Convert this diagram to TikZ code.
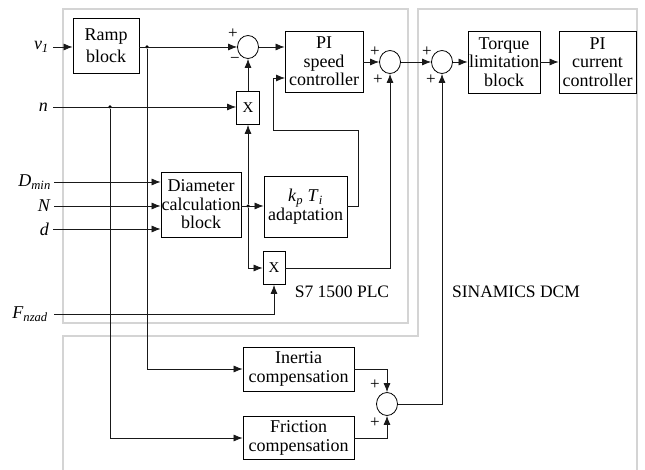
\documentclass[tikz,border=0pt]{standalone}
\usepackage{fontspec}
\setmainfont{Liberation Serif}
\usetikzlibrary{arrows.meta,shapes.geometric,calc}
\begin{document}
\begin{tikzpicture}[x=1pt,y=-1pt,
  blk/.style={draw, line width=0.8pt, inner sep=0pt, align=center, font=\fontsize{18}{18.5}\selectfont},
  mul/.style={draw, line width=0.8pt, inner sep=0pt, minimum width=23pt, minimum height=33pt, font=\fontsize{15}{15}\selectfont},
  sumc/.style={draw, ellipse, line width=0.8pt, minimum width=21pt, minimum height=23pt, inner sep=0pt},
  lbl/.style={font=\fontsize{18}{18}\selectfont, inner sep=0pt, anchor=east},
  sgn/.style={font=\fontsize{17}{17}\selectfont, inner sep=0pt},
  conn/.style={line width=0.75pt, draw=black!90},
  arr/.style={conn, -{Latex[length=9pt,width=7pt]}},
  dot/.style={circle, fill=black, inner sep=0pt, minimum size=3.5pt},
  region/.style={draw=black!17, line width=2pt},
  title/.style={font=\fontsize{17.5}{17.5}\selectfont, inner sep=0pt}
]
\useasboundingbox (0,0) rectangle (645,470);
\fill[white] (0,0) rectangle (645,470);

% regions
\draw[region] (63,9) rectangle (408,323);
\draw[region] (63,470) -- (63,336) -- (418,336) -- (418,9) -- (637,9) -- (637,470);

% blocks
\node[blk, minimum width=66pt, minimum height=55pt] (ramp) at (106,46) {Ramp\\[3.5pt]block};
\node[blk, minimum width=78pt, minimum height=61pt] (pis) at (324,61.5) {PI\\speed\\controller};
\node[blk, minimum width=72pt, minimum height=62pt] (torque) at (504,62) {Torque\\limitation\\block};
\node[blk, minimum width=77pt, minimum height=62pt] (picur) at (597.5,62) {PI\\current\\controller};
\node[blk, minimum width=80pt, minimum height=65pt] (diam) at (201,204.5) {Diameter\\calculation\\block};
\node[blk, minimum width=83pt, minimum height=61pt] (kp) at (305.5,206.5) {\textit{k}\textsubscript{\textit{p}} \textit{T}\textsubscript{\textit{i}}\\adaptation};
\node[blk, minimum width=111pt, minimum height=44pt] (inertia) at (298.5,369) {Inertia\\compensation};
\node[blk, minimum width=111pt, minimum height=43pt] (friction) at (298.5,438) {Friction\\compensation};
\node[mul] (x1) at (248,108) {X};
\node[mul, minimum width=22pt] (x2) at (274,268) {X};

% summing junctions
\node[sumc] (sum1) at (248,47) {};
\node[sumc] (sum2) at (390,62) {};
\node[sumc] (sum3) at (442,62) {};
\node[sumc] (sum4) at (387,404) {};

% signs
\node[sgn] (s1a) at (233,34) {+};
\node[sgn] (s1b) at (235,60) {−};
\node[sgn] (s2a) at (375,52) {+};
\node[sgn] (s2b) at (378,80) {+};
\node[sgn] (s3a) at (427,52) {+};
\node[sgn] (s3b) at (431,80) {+};
\node[sgn] (s4a) at (375,385) {+};
\node[sgn] (s4b) at (375,423) {+};

% input labels
\node[lbl] (v1) at (49,47) {\textit{v}\textsubscript{\textit{1}}};
\node[lbl] (nl) at (48,107) {\textit{n}};
\node[lbl] (dmin) at (51,182) {\textit{D}\textsubscript{\textit{min}}};
\node[lbl] (bigN) at (51,206) {\textit{N}};
\node[lbl] (dl) at (49,229) {\textit{d}};
\node[lbl] (fl) at (48,314) {\textit{F}\textsubscript{\textit{nzad}}};

% titles
\node[title] (plc) at (342,292) {S7 1500 PLC};
\node[title] (sin) at (516,292) {SINAMICS DCM};

% junction dots and bend points
\node[dot] (j1) at (147,47) {};
\node[dot] (j2) at (110,107) {};
\node[dot] (j3) at (248,206) {};
\coordinate (fb1) at (358,130);
\coordinate (fb2) at (273,78);
\coordinate (fbin) at (285,78);

% connectors
\draw[arr] ([xshift=4pt]v1.east) -- (ramp.west |- v1.east);
\draw[arr] (ramp.east |- j1) -- (sum1.west);
\draw[arr] (sum1.east) -- (pis.west |- sum1);
\draw[arr] (x1.north) -- (sum1.south);
\draw[arr] ([xshift=5pt]nl.east) -- (x1.west |- nl.east);
\draw[arr] ([xshift=3pt]dmin.east) -- (diam.west |- dmin.east);
\draw[arr] ([xshift=3pt]bigN.east) -- (diam.west |- bigN.east);
\draw[arr] ([xshift=4pt]dl.east) -- (diam.west |- dl.east);
\draw[arr] (diam.east |- j3) -- (kp.west |- j3);
\draw[arr] (j3) -- (x1.south);
\draw[arr] (j3) |- (x2.west);
\draw[arr] (kp.east |- j3) -| (fb1) -| (fb2) -- (fbin);
\draw[arr] (x2.east) -| (sum2.south);
\draw[arr] ([xshift=6pt]fl.east) -| (x2.south);
\draw[arr] (pis.east |- sum2) -- (sum2.west);
\draw[arr] (sum2.east) -- (sum3.west);
\draw[arr] (sum3.east) -- (torque.west |- sum3);
\draw[arr] (torque.east) -- (picur.west);
\draw[arr] (j1) |- (inertia.west);
\draw[arr] (j2) |- (friction.west);
\draw[arr] (inertia.east) -| (sum4.north);
\draw[arr] (friction.east) -| (sum4.south);
\draw[arr] (sum4.east) -| (sum3.south);
\end{tikzpicture}
\end{document}
